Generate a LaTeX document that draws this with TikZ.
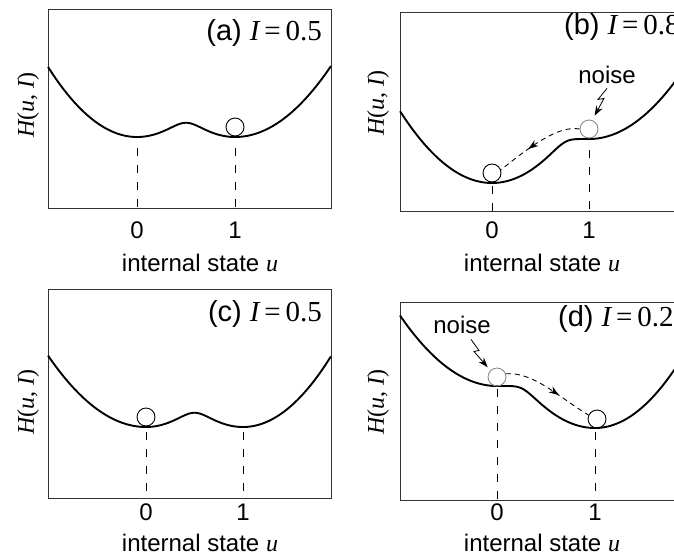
\documentclass[tikz,border=0pt]{standalone}
\usepackage{fontspec}
\setmainfont{Liberation Sans}
\newfontfamily\tms{Liberation Serif}
\usepackage{tikz}
\usetikzlibrary{arrows.meta,decorations.markings}

\newcommand{\mi}[1]{{\tms\itshape #1}}
\newcommand{\mr}[1]{{\tms #1}}
\newcommand{\Hlabel}{\mi{H}\mr{(}\mi{u}\mr{, }\mi{I}\mr{)}}
\newcommand{\xlabel}{internal state \mi{u}}

% soft minimum of two wells
\pgfmathdeclarefunction{smin}{3}{\pgfmathparse{min(#1,#2)-#3*ln(1+exp(-abs(#1-#2)/#3))}}

\begin{document}
\begin{tikzpicture}[
    x=1pt,
    y=-1pt,
    >=Stealth,
    font=\fontsize{24}{26}\selectfont,
    panelbox/.style={draw=black!80, line width=1pt},
    potential/.style={line width=1.9pt, line join=round},
    guide/.style={line width=0.9pt, dash pattern=on 8pt off 9pt},
    ball/.style={circle, draw, line width=0.9pt, minimum size=18pt, inner sep=0pt},
    ghost/.style={ball, draw=black!45},
    txt/.style={inner sep=1pt},
    title/.style={txt, font=\fontsize{29}{31}\selectfont},
    kick/.style={line width=0.9pt, dash pattern=on 5pt off 4pt,
        postaction={decorate, decoration={markings,
            mark=at position 0.62 with {\arrow{Stealth[length=10pt,width=7pt]}}}}},
    bolt/.style={->, line width=0.8pt, >={Stealth[length=10pt,width=7pt]}}
]
\useasboundingbox (0,0) rectangle (674,557);
\clip (0,0) rectangle (674,557);

% --- Frames ---
\draw[panelbox] (48,9) rectangle (331,208);
\draw[panelbox] (400,12) rectangle (684,211);
\draw[panelbox] (48,289) rectangle (331,498);
\draw[panelbox] (400,302) rectangle (684,500);

% --- Potentials ---
\begin{scope}[xshift=137pt, yshift=-137pt, x=98pt]
  \draw[potential] plot[domain=-0.908:1.98, samples=160]
    (\x, {-smin((\x<0?85:82)*\x*\x, (\x<1?82:74)*(\x-1)*(\x-1), 9)});
\end{scope}
\begin{scope}[xshift=492pt, yshift=-183pt, x=97pt]
  \draw[potential] plot[domain=-0.948:1.98, samples=160]
    (\x, {-smin(80*\x*\x, 44+(\x<1?15:73)*(\x-1)*(\x-1), 6)});
\end{scope}
\begin{scope}[xshift=146pt, yshift=-427pt, x=97pt]
  \draw[potential] plot[domain=-1.01:1.907, samples=160]
    (\x, {-smin((\x<0?70:82)*\x*\x, (\x<1?82:86)*(\x-1)*(\x-1), 9)});
\end{scope}
\begin{scope}[xshift=497pt, yshift=-428pt, x=98pt]
  \draw[potential] plot[domain=-0.99:1.9, samples=160]
    (\x, {-smin(42+(\x<0?72:15)*\x*\x, (\x<1?80:89)*(\x-1)*(\x-1), 6)});
\end{scope}

% --- Guides ---
\foreach \gx/\gtop/\gbot in {137/148/208, 235/148/208, 492/186/211, 589/150/211,
                             146/432/498, 243/432/498, 497/389/500, 595/432/500} {
  \draw[guide] (\gx,\gtop) -- (\gx,\gbot);
}

% --- Axis texts ---
\foreach \tx/\ty/\tv in {137/230/0, 235/230/1, 492/230/0, 589/230/1,
                         146/512/0, 243/512/1, 497/512/0, 595/512/1} {
  \node[txt] at (\tx,\ty) {\tv};
}
\node[txt, anchor=base] (xlabA) at (200,271) {\xlabel};
\node[txt, anchor=base] (xlabB) at (542,271) {\xlabel};
\node[txt, anchor=base] (xlabC) at (200,551) {\xlabel};
\node[txt, anchor=base] (xlabD) at (542,551) {\xlabel};

\node[txt, rotate=90] (ylabA) at (28,105) {\Hlabel};
\node[txt, rotate=90] (ylabB) at (378,103) {\Hlabel};
\node[txt, rotate=90] (ylabC) at (28,402) {\Hlabel};
\node[txt, rotate=90] (ylabD) at (378,402) {\Hlabel};

% --- Titles ---
\node[title, anchor=base east] (titleA) at (323,40) {(a) \mi{I}\mr{\,=\,0.5}};
\node[title, anchor=base west] (titleB) at (563,34) {(b) \mi{I}\mr{\,=\,0.8}};
\node[title, anchor=base east] (titleC) at (323,321) {(c) \mi{I}\mr{\,=\,0.5}};
\node[title, anchor=base west] (titleD) at (557,326) {(d) \mi{I}\mr{\,=\,0.2}};

% --- Balls ---
\node[ball]  (ballA1) at (235,127) {};
\node[ball]  (ballB0) at (492,173) {};
\node[ghost] (ballB1) at (589,129) {};
\node[ball]  (ballC0) at (146,417) {};
\node[ghost] (ballD0) at (497,377) {};
\node[ball]  (ballD1) at (597,419) {};

% --- Noise kicks ---
\node[txt, anchor=base] (noiseB) at (607,83) {noise};
\node[txt, anchor=base] (noiseD) at (462,333) {noise};

\draw[bolt, shorten >=5pt] ([yshift=-4pt]noiseB.south) -- ++(-9,11) -- ++(6,-1) -- (ballB1.70);
\draw[bolt, shorten >=4pt] ([xshift=9pt,yshift=-5pt]noiseD.south) -- ++(8,11) -- ++(-5,1) -- (ballD0.135);

\draw[kick] (ballB1.west) .. controls +(-22,-4) and +(28,-22) .. (ballB0.20);
\draw[kick] (ballD0.20) .. controls +(28,-2) and +(-30,-18) .. (ballD1.155);

\end{tikzpicture}
\end{document}
